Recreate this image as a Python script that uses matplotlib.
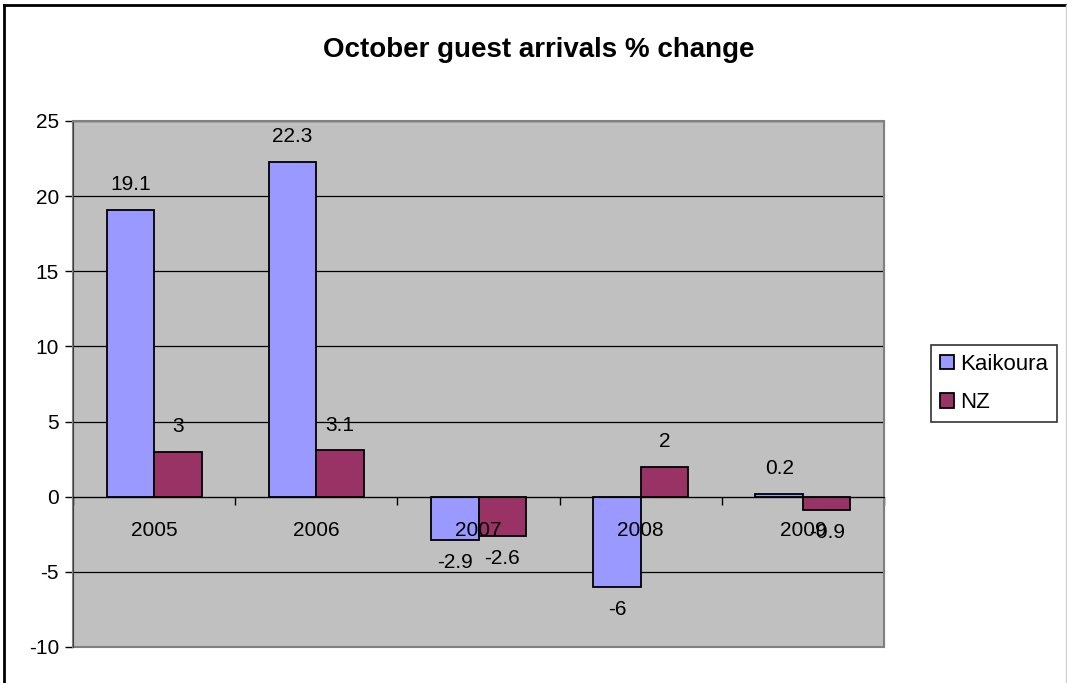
import matplotlib.pyplot as plt
from matplotlib.patches import Rectangle

plt.rcParams['font.family'] = ['Liberation Sans', 'DejaVu Sans']
plt.rcParams['axes.unicode_minus'] = False

years = ["2005", "2006", "2007", "2008", "2009"]
kaikoura = [19.1, 22.3, -2.9, -6, 0.2]
nz = [3, 3.1, -2.6, 2, -0.9]

W, H = 1067, 683
fig = plt.figure(figsize=(W / 100, H / 100), dpi=100)
ax = fig.add_axes([73 / W, 1 - 647 / H, (884 - 73) / W, (647 - 121) / H])
ax.set_facecolor("#C0C0C0")

# ramka wokol calego wykresu
fig.add_artist(plt.Line2D([3.5 / W, 3.5 / W], [0, 1 - 5 / H], color="black", lw=2))
fig.add_artist(plt.Line2D([3.5 / W, 1066 / W], [1 - 5 / H, 1 - 5 / H], color="black", lw=2))
fig.add_artist(plt.Line2D([1066 / W, 1066 / W], [0, 1 - 5 / H], color="#D0D0D0", lw=1))

w = 0.293
xs = list(range(len(years)))
b1 = ax.bar([x - w / 2 for x in xs], kaikoura, w, color="#9999FF", edgecolor="black", lw=1.3, label="Kaikoura", zorder=3)
b2 = ax.bar([x + w / 2 for x in xs], nz, w, color="#993366", edgecolor="black", lw=1.3, label="NZ", zorder=3)

for bars, vals in [(b1, kaikoura), (b2, nz)]:
    for b, v in zip(bars, vals):
        cx = b.get_x() + b.get_width() / 2
        off = 18 if v >= 0 else -16
        ax.annotate(f"{v:g}", (cx, v), xytext=(0, off), textcoords="offset points",
                    ha="center", va="center", fontsize=15, zorder=5)

ax.set_xlim(-0.5, 4.5)
ax.set_ylim(-10, 25)
ax.set_yticks(range(-10, 26, 5))
ax.yaxis.grid(True, color="black", lw=0.9)
ax.set_axisbelow(True)
ax.tick_params(axis="y", labelsize=15, length=6, width=1, direction="out", pad=4)

ax.spines["bottom"].set_position(("data", 0))
ax.spines["bottom"].set_color("black")
ax.spines["bottom"].set_zorder(4)
ax.set_xticks([i + 0.5 for i in range(-1, 5)])
ax.set_xticklabels([])
ax.tick_params(axis="x", length=6, width=1, direction="out", color="black")
for s in ["top", "right"]:
    ax.spines[s].set_color("#808080")
ax.spines["left"].set_color("#404040")

for i, y in enumerate(years):
    ax.annotate(y, (i, 0), xytext=(0, -24), textcoords="offset points",
                ha="center", va="center", fontsize=15, zorder=5)

# krawedz obszaru wykresu
ax.add_patch(Rectangle((0, 0), 1, 1, transform=ax.transAxes, fill=False,
                       edgecolor="#808080", lw=1.5, zorder=2, clip_on=False))

fig.text(539 / W, 1 - 50 / H, "October guest arrivals % change", ha="center", va="center",
         fontsize=20, fontweight="bold")

leg = fig.legend(handles=[b1, b2], loc="center left", bbox_to_anchor=(931 / W, 1 - 383.5 / H),
                 fontsize=16, frameon=True, fancybox=False, edgecolor="black",
                 handlelength=0.62, handleheight=0.62, handletextpad=0.3,
                 borderpad=0.4, labelspacing=0.8, borderaxespad=0)
leg.get_frame().set_linewidth(1.2)

fig.savefig("out.png", dpi=100)
